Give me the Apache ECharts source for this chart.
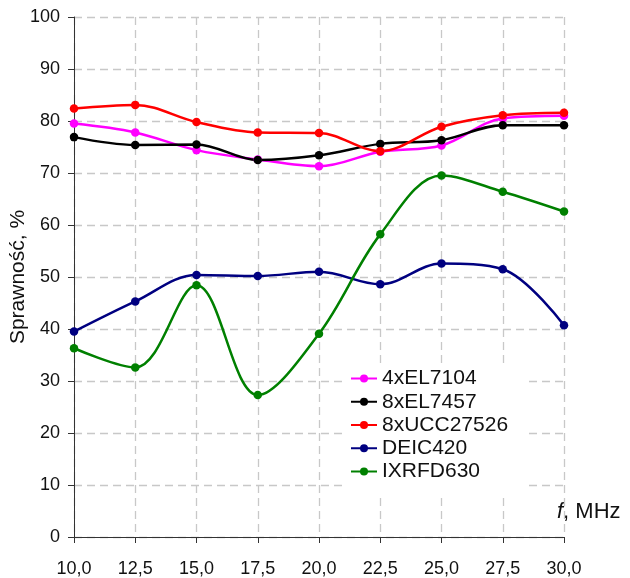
<!DOCTYPE html>
<html>
<head>
<meta charset="utf-8">
<script src="https://cdn.jsdelivr.net/npm/echarts@6/dist/echarts.min.js"></script>
<style>html,body{margin:0;padding:0;background:#fff}#c{width:630px;height:578px}</style>
</head>
<body>
<div id="c"></div>
<script>
var freqs = [10, 12.5, 15, 17.5, 20, 22.5, 25, 27.5, 30];
var names = ['4xEL7104', '8xEL7457', '8xUCC27526', 'DEIC420', 'IXRFD630'];
var el7104 = [79.5, 77.8, 74.4, 72.6, 71.3, 74.1, 75.3, 80.5, 81.0];
var el7457 = [76.9, 75.4, 75.5, 72.5, 73.4, 75.6, 76.3, 79.2, 79.2];
var ucc27526 = [82.4, 83.1, 79.8, 77.8, 77.7, 74.2, 78.9, 81.1, 81.6];
var deic420 = [39.5, 45.3, 50.4, 50.2, 51.0, 48.6, 52.6, 51.5, 40.7];
var ixrfd630 = [36.3, 32.6, 48.4, 27.3, 39.1, 58.2, 69.5, 66.4, 62.6];
var colors = ['#ff00ff', '#000000', '#ff0000', '#000080', '#008000'];
var yTicks = [0, 10, 20, 30, 40, 50, 60, 70, 80, 90, 100];

var FONT = 'Liberation Sans, Arial, sans-serif';
var allData = [el7104, el7457, ucc27526, deic420, ixrfd630];
var series = allData.map(function (vals, i) {
  return {
    name: names[i],
    type: 'line',
    smooth: 0.35,
    symbol: 'circle',
    symbolSize: 8.5,
    lineStyle: { width: 2.5, color: colors[i] },
    itemStyle: { color: colors[i] },
    data: freqs.map(function (f, j) { return [f, vals[j]]; })
  };
});

var chart = echarts.init(document.getElementById('c'));
chart.setOption({
  animation: false,
  backgroundColor: '#fff',
  textStyle: { fontFamily: FONT },
  grid: { left: 74, right: 66, top: 17, bottom: 41, containLabel: false, outerBoundsMode: 'none' },
  xAxis: {
    type: 'value', min: 10, max: 30, interval: 2.5,
    axisLine: { show: true, lineStyle: { color: '#333', width: 1 } },
    axisTick: { show: true, length: 6, lineStyle: { color: '#333' } },
    axisLabel: {
      fontSize: 18, color: '#111', margin: 23,
      formatter: function (v) { return v.toFixed(1).replace('.', ','); }
    },
    splitLine: { show: true, lineStyle: { color: '#c8c8c8', type: [8, 5], width: 1.3 } }
  },
  yAxis: {
    type: 'value', min: yTicks[0], max: yTicks[yTicks.length - 1], interval: 10,
    name: 'Sprawność, %', nameLocation: 'middle', nameGap: 45, nameRotate: 90,
    nameMoveOverlap: false,
    nameTextStyle: { fontSize: 21, color: '#111' },
    axisLine: { show: true, lineStyle: { color: '#333', width: 1 } },
    axisTick: { show: true, length: 6, lineStyle: { color: '#333' } },
    axisLabel: { fontSize: 18, color: '#111', margin: 14 },
    splitLine: { show: true, lineStyle: { color: '#c8c8c8', type: [8, 5], width: 1.3 } }
  },
  legend: {
    orient: 'vertical', left: 343, top: 363,
    backgroundColor: '#fff', padding: [5, 20, 14, 7],
    itemWidth: 26, itemHeight: 10, itemGap: 2.25,
    textStyle: { fontSize: 21, color: '#111', lineHeight: 20 },
    data: names
  },
  graphic: [{
    type: 'text', left: 557, top: 501,
    style: {
      text: '{i|f}{n|, MHz}',
      rich: {
        i: { fontSize: 22, fontStyle: 'italic', fill: '#111', fontFamily: FONT },
        n: { fontSize: 22, fill: '#111', fontFamily: FONT }
      }
    }
  }],
  series: series
});
</script>
</body>
</html>
